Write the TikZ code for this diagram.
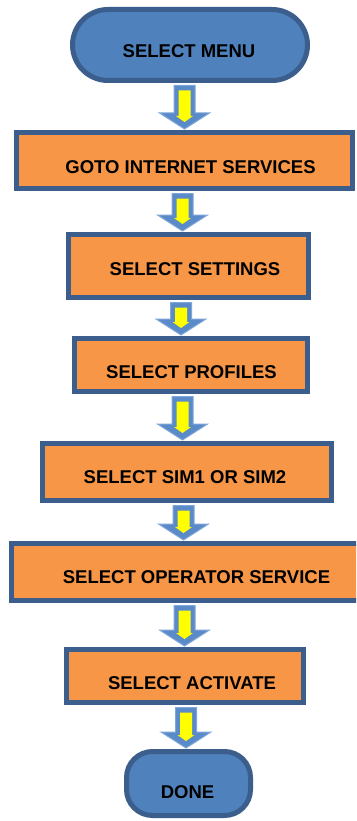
\documentclass[tikz,border=0pt]{standalone}
\usepackage{fontspec}
\setmainfont{Liberation Sans}
\usetikzlibrary{shapes.misc,calc}
\definecolor{boxorange}{HTML}{F79646}
\definecolor{boxborder}{HTML}{3B5E8C}
\definecolor{termfill}{HTML}{4F81BD}
\definecolor{arrfill}{HTML}{5A8AC8}
\definecolor{arredge}{HTML}{7FA7D9}
\definecolor{arryellow}{HTML}{FFFF00}
\tikzset{
  procbox/.style={draw=boxborder, line width=5pt, fill=boxorange, rectangle, inner sep=0pt},
  termbox/.style={draw=boxborder, line width=5pt, fill=termfill, rounded rectangle, inner sep=0pt},
  donebox/.style={draw=boxborder, line width=5pt, fill=termfill, rectangle, rounded corners=26pt, inner sep=0pt},
  lbl/.style={font=\bfseries\fontsize{18.5}{20}\selectfont, inner sep=0pt, text=black},
  bluearrow/.style={fill=arrfill, draw=arredge, line width=1pt},
  yellowarrow/.style={fill=arryellow, draw=none},
}
\newcommand\flowarrow[3]{%
  \filldraw[bluearrow] let \p1=(#1.south), \p2=(#2.north) in
    ({(#3-10.5)*1pt},{\y1-2.5pt}) -- ({(#3+10.5)*1pt},{\y1-2.5pt}) --
    ({(#3+10.5)*1pt},{\y2+17pt}) -- ({(#3+25)*1pt},{\y2+17pt}) --
    ({#3*1pt},{\y2+1pt}) -- ({(#3-25)*1pt},{\y2+17pt}) --
    ({(#3-10.5)*1pt},{\y2+17pt}) -- cycle;
  \fill[yellowarrow] let \p1=(#1.south), \p2=(#2.north) in
    ({(#3-6)*1pt},{\y1-7.5pt}) -- ({(#3+6)*1pt},{\y1-7.5pt}) --
    ({(#3+6)*1pt},{\y2+14pt}) -- ({(#3+8.5)*1pt},{\y2+14pt}) --
    ({#3*1pt},{\y2+8pt}) -- ({(#3-8.5)*1pt},{\y2+14pt}) --
    ({(#3-6)*1pt},{\y2+14pt}) -- cycle;
}
\begin{document}
\begin{tikzpicture}[x=1pt,y=-1pt]
  \useasboundingbox (0,0) rectangle (356,821);
  \clip (0,0) rectangle (356,821);
  \fill[white] (0,0) rectangle (356,821);
  % boxes
  \node[termbox, minimum width=235pt, minimum height=71pt] (b1) at (190,45) {};
  \node[procbox, minimum width=336pt, minimum height=56pt] (b2) at (184.5,160.5) {};
  \node[procbox, minimum width=240pt, minimum height=63pt] (b3) at (188.5,266) {};
  \node[procbox, minimum width=233pt, minimum height=53pt] (b4) at (191,365) {};
  \node[procbox, minimum width=289pt, minimum height=57pt] (b5) at (187,472) {};
  \node[procbox, minimum width=352pt, minimum height=57pt] (b6) at (187.5,572) {};
  \node[procbox, minimum width=237pt, minimum height=53pt] (b7) at (185,676) {};
  \node[donebox, minimum width=124pt, minimum height=64pt] (b8) at (188.5,783.5) {};
  % labels
  \node[lbl] (t1) at (189,51) {SELECT MENU};
  \node[lbl] (t2) at (190.5,167) {GOTO INTERNET SERVICES};
  \node[lbl] (t3) at (195,269) {SELECT SETTINGS};
  \node[lbl] (t4) at (191.5,372) {SELECT PROFILES};
  \node[lbl] (t5) at (185,477) {SELECT SIM1 OR SIM2};
  \node[lbl] (t6) at (196.5,577) {SELECT OPERATOR SERVICE};
  \node[lbl] (t7) at (192,683) {SELECT ACTIVATE};
  \node[lbl] (t8) at (187.5,792) {DONE};
  % arrows
  \flowarrow{b1}{b2}{184.5}
  \flowarrow{b2}{b3}{182.5}
  \flowarrow{b3}{b4}{181}
  \flowarrow{b4}{b5}{182.5}
  \flowarrow{b5}{b6}{183.5}
  \flowarrow{b6}{b7}{184.5}
  \flowarrow{b7}{b8}{186}
\end{tikzpicture}
\end{document}
